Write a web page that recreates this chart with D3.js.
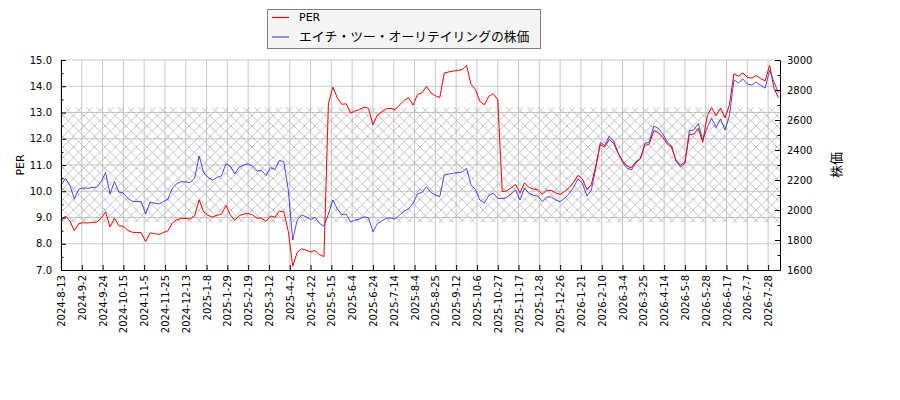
<html>
<head>
<meta charset="utf-8">
<script src="https://d3js.org/d3.v7.min.js"></script>
<style>
body { margin: 0; background: #fff; }
text { font-family: "DejaVu Sans", "Noto Sans CJK JP", sans-serif; }
</style>
</head>
<body>
<script>
//DATA
//tick labels, one every 14 trading days
var tickLabels = ["2024-8-13","2024-9-2","2024-9-24","2024-10-15","2024-11-5","2024-11-25","2024-12-13",
  "2025-1-8","2025-1-29","2025-2-19","2025-3-12","2025-4-2","2025-4-22","2025-5-15","2025-6-4","2025-6-24",
  "2025-7-14","2025-8-4","2025-8-25","2025-9-12","2025-10-6","2025-10-27","2025-11-17","2025-12-8","2025-12-26",
  "2026-1-21","2026-2-10","2026-3-4","2026-3-25","2026-4-14","2026-5-8","2026-5-28","2026-6-17","2026-7-7","2026-7-28"];
var tickEvery = 14;
var lastIndex = 484;

//stock price, one value every 3 trading days
var priceStep = 3;
var priceValues = [
  2165, 2211, 2164, 2073, 2140, 2147, 2145, 2150, 2153, 2189,
  2249, 2107, 2189, 2120, 2113, 2077, 2058, 2057, 2055, 1973,
  2053, 2045, 2040, 2057, 2073, 2147, 2175, 2189, 2187, 2183,
  2213, 2360, 2250, 2216, 2200, 2217, 2227, 2307, 2293, 2240,
  2287, 2300, 2307, 2293, 2260, 2263, 2230, 2283, 2270, 2330,
  2322, 2133, 1800, 1933, 1967, 1955, 1937, 1951, 1911, 1893,
  1973, 2067, 2007, 1970, 1973, 1920, 1933, 1940, 1955, 1947,
  1855, 1910, 1927, 1945, 1947, 1940, 1967, 1993, 2008, 2045,
  2108, 2117, 2155, 2117, 2100, 2090, 2233, 2240, 2245, 2249,
  2253, 2278, 2167, 2137, 2067, 2047, 2097, 2113, 2077, 2077,
  2083, 2107, 2133, 2067, 2147, 2111, 2097, 2093, 2057, 2087,
  2087, 2067, 2055, 2078, 2107, 2150, 2207, 2177, 2093, 2133,
  2280, 2450, 2430, 2490, 2460, 2383, 2320, 2278, 2267, 2313,
  2340, 2443, 2453, 2560, 2545, 2510, 2455, 2427, 2327, 2287,
  2311, 2530, 2533, 2577, 2467, 2550, 2611, 2550, 2607, 2533,
  2633, 2867, 2847, 2873, 2840, 2833, 2853, 2830, 2813, 2930,
  2853, 2780];

//EPS used for PER (PER = price / EPS), changes at earnings days (trading day index)
var epsStart = [0, 114, 179, 236, 296, 434, 479];
var epsValue = [244, 252, 148, 154, 208, 198, 205];

//hatched PER band
var bandLow = 8.8;
var bandHigh = 13.2;

var seriesNames = ["PER", "エイチ・ツー・オーリテイリングの株価"];
//////////////////////

var svg = d3.select("body")
   .append("svg")
   .attr("width", 900)
   .attr("height", 400);

//plot box
var pLeft = 61, pRight = 780, pTop = 60, pBottom = 270;

var x = d3.scaleLinear().domain([0, lastIndex]).range([pLeft, pRight]);
var yPer = d3.scaleLinear().domain([7, 15]).range([pBottom, pTop]);
var yPrice = d3.scaleLinear().domain([1600, 3000]).range([pBottom, pTop]);

function epsAt(i) {
	var e = epsValue[0];
	for (var k = 0; k < epsStart.length; k++) {
		if (i >= epsStart[k]) e = epsValue[k];
	}
	return e;
}

var points = priceValues.map(function(v, j) {
	var i = j * priceStep;
	return {i: i, price: v, per: v / epsAt(i)};
});

var tickIdx = tickLabels.map(function(d, k) { return k * tickEvery; });

//HATCH PATTERN
var defs = svg.append("defs");
var pat = defs.append("pattern")
	.attr("id", "hatch")
	.attr("patternUnits", "userSpaceOnUse")
	.attr("width", 10.5)
	.attr("height", 10.5);
pat.append("path")
	.attr("d", "M0,0L10.5,10.5M10.5,0L0,10.5")
	.attr("stroke", "#a8a8a8")
	.attr("stroke-width", 0.7);

//GRID
svg.append("g").selectAll("line").data(tickIdx).enter().append("line")
	.attr("x1", function(d) { return x(d); })
	.attr("x2", function(d) { return x(d); })
	.attr("y1", pTop).attr("y2", pBottom)
	.attr("stroke", "#c8c8c8").attr("stroke-width", 1);
svg.append("g").selectAll("line").data(d3.range(8, 16)).enter().append("line")
	.attr("x1", pLeft).attr("x2", pRight)
	.attr("y1", function(d) { return yPer(d); })
	.attr("y2", function(d) { return yPer(d); })
	.attr("stroke", "#c8c8c8").attr("stroke-width", 1);

//BAND
svg.append("rect")
	.attr("x", pLeft)
	.attr("y", yPer(bandHigh))
	.attr("width", pRight - pLeft)
	.attr("height", yPer(bandLow) - yPer(bandHigh))
	.attr("fill", "url(#hatch)");

//LINES
var priceLine = d3.line()
	.x(function(d) { return x(d.i); })
	.y(function(d) { return yPrice(d.price); });
var perLine = d3.line()
	.x(function(d) { return x(d.i); })
	.y(function(d) { return yPer(d.per); });

svg.append("path").datum(points)
	.attr("d", priceLine)
	.attr("fill", "none")
	.attr("stroke", "blue")
	.attr("stroke-opacity", 0.7)
	.attr("stroke-width", 1);
svg.append("path").datum(points)
	.attr("d", perLine)
	.attr("fill", "none")
	.attr("stroke", "red")
	.attr("stroke-width", 1);

//AXES
var fmt = d3.format(".1f");
svg.append("g").attr("transform", "translate(" + pLeft + ",0)")
	.call(d3.axisLeft(yPer).tickValues(d3.range(7, 15.01, 1)).tickFormat(fmt).tickSize(-5).tickSizeOuter(0).tickPadding(9));
svg.append("g").attr("transform", "translate(" + pLeft + ",0)")
	.call(d3.axisLeft(yPer).tickValues(d3.range(7.5, 15, 1)).tickFormat("").tickSize(-2.5).tickSizeOuter(0));

svg.append("g").attr("transform", "translate(" + pRight + ",0)")
	.call(d3.axisRight(yPrice).tickValues(d3.range(1600, 3001, 200)).tickFormat(d3.format("d")).tickSize(-5).tickSizeOuter(0).tickPadding(7));
svg.append("g").attr("transform", "translate(" + pRight + ",0)")
	.call(d3.axisRight(yPrice).tickValues(d3.range(1700, 3000, 200)).tickFormat("").tickSize(-2.5).tickSizeOuter(0));

var gb = svg.append("g").attr("transform", "translate(0," + pBottom + ")")
	.call(d3.axisBottom(x).tickValues(tickIdx).tickFormat(function(d, k) { return tickLabels[k]; }).tickSize(-5).tickSizeOuter(0));
gb.selectAll("text")
	.attr("transform", "rotate(-90)")
	.attr("text-anchor", "end")
	.attr("x", -5)
	.attr("y", 0)
	.attr("dy", "0.35em");

svg.selectAll(".tick text").attr("font-size", 10).attr("fill", "#000");
svg.selectAll(".domain").attr("stroke", "#000");

//AXIS TITLES
svg.append("text")
	.attr("transform", "translate(24,165) rotate(-90)")
	.attr("text-anchor", "middle")
	.attr("font-size", 11)
	.text("PER");
svg.append("text")
	.attr("transform", "translate(841,165) rotate(-90)")
	.attr("text-anchor", "middle")
	.attr("font-size", 13)
	.style("font-family", "'Noto Sans CJK JP'")
	.text("株価");

//LEGEND
var lg = svg.append("g");
lg.append("rect")
	.attr("x", 267.5).attr("y", 9.5)
	.attr("width", 273).attr("height", 39)
	.attr("fill", "#f4f4f4")
	.attr("stroke", "#808080");
var legendColors = ["red", "blue"];
var legendOpac = [1, 0.7];
seriesNames.forEach(function(name, k) {
	var ly = 17.5 + k * 19.5;
	lg.append("line")
		.attr("x1", 272).attr("x2", 289)
		.attr("y1", ly).attr("y2", ly)
		.attr("stroke", legendColors[k])
		.attr("stroke-opacity", legendOpac[k])
		.attr("stroke-width", 1.2);
	lg.append("text")
		.attr("x", 299).attr("y", ly)
		.attr("dy", "0.35em")
		.attr("font-size", k == 0 ? 11 : 12.8)
		.style("font-family", k == 0 ? null : "'Noto Sans CJK JP'")
		.text(name);
});
</script>
</body>
</html>
